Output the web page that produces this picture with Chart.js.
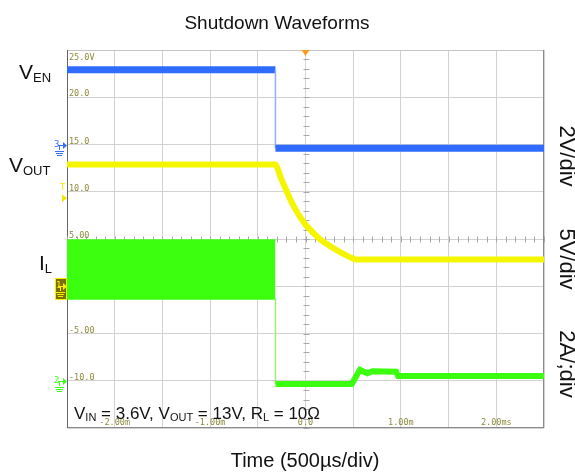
<!DOCTYPE html>
<html>
<head>
<meta charset="utf-8">
<script src="https://cdn.jsdelivr.net/npm/chart.js@4.4.0/dist/chart.umd.min.js"></script>
<style>
html,body{margin:0;padding:0;background:#fff;}
#wrap{width:575px;height:475px;position:relative;}
</style>
</head>
<body>
<div id="wrap"><canvas id="c" width="575" height="475"></canvas></div>
<script>
// ---- data (scope display units: time in ms, vertical in on-screen grid units) ----
const venTime   = [-2.5, -0.315, -0.315, 2.5];
const venValue  = [22.9, 22.9, 14.6, 14.6];

const voutTime  = [-2.5, -0.319, -0.256, -0.203, -0.151, -0.081, -0.010, 0.077, 0.164, 0.268, 0.373, 0.478, 0.53, 2.5];
const voutValue = [12.88, 12.88, 11.42, 10.19, 9.01, 7.72, 6.66, 5.71, 4.89, 4.18, 3.55, 3.02, 2.83, 2.83];

const ilRippleTime = [-2.5, -0.315];
const ilRippleMax  = [4.9, 4.9];
const ilRippleMin  = [-1.35, -1.35];

const ilTime  = [-0.315, -0.315, 0.485, 0.57, 0.65, 0.70, 0.95, 0.97, 2.5];
const ilValue = [-1.35, -10.35, -10.35, -8.85, -9.2, -9.0, -9.05, -9.5, -9.5];

const gridLabelValues = [25, 20, 15, 10, 5, 0, -5, -10];
const gridLabels      = ['25.0V', '20.0', '15.0', '10.0', '5.00', '0.0', '-5.00', '-10.0'];
const timeLabelValues = [-2, -1, 0, 1, 2];
const timeLabels      = ['-2.00m', '-1.00m', '0.0', '1.00m', '2.00ms'];

const titleText  = 'Shutdown Waveforms';
const xTitleText = 'Time (500\u00B5s/div)';

// ---- helpers ----
function pts(xs, ys) { return xs.map((x, i) => ({ x: x, y: ys[i] })); }
function verticalThin(w, c) {
  return {
    borderWidth: ctx => ctx.p0.parsed.x === ctx.p1.parsed.x ? w : undefined,
    borderColor: ctx => ctx.p0.parsed.x === ctx.p1.parsed.x ? c : undefined
  };
}
const SANS = '"Liberation Sans", Arial, sans-serif';
const MONO = '"DejaVu Sans Mono", monospace';
const OLIVE = '#8c8a3c';

function drawRich(ctx, parts, x, y, big, small, drop) {
  ctx.textAlign = 'left';
  ctx.textBaseline = 'alphabetic';
  let cx = x;
  parts.forEach(p => {
    ctx.font = (p.sub ? small : big) + 'px ' + SANS;
    ctx.fillText(p.t, cx, p.sub ? y + drop : y);
    cx += ctx.measureText(p.t).width;
  });
}

const decorPlugin = {
  id: 'decor',
  beforeDatasetsDraw(chart) {
    const { ctx, chartArea: a, scales } = chart;
    const xs = scales.x, ys = scales.y;
    ctx.save();
    // frame
    ctx.lineWidth = 1;
    ctx.strokeStyle = '#c4c4c4';
    ctx.beginPath(); ctx.moveTo(a.left, a.top + 0.5); ctx.lineTo(a.right, a.top + 0.5); ctx.stroke();
    ctx.strokeStyle = '#8a8a8a';
    ctx.beginPath(); ctx.moveTo(a.right - 0.5, a.top); ctx.lineTo(a.right - 0.5, a.bottom); ctx.stroke();
    ctx.beginPath(); ctx.moveTo(a.left, a.bottom - 0.5); ctx.lineTo(a.right, a.bottom - 0.5); ctx.stroke();
    ctx.strokeStyle = '#666';
    ctx.beginPath(); ctx.moveTo(a.left + 0.5, a.top); ctx.lineTo(a.left + 0.5, a.bottom); ctx.stroke();

    // minor ticks on centre axes
    ctx.strokeStyle = '#a8a8a8';
    const cx = Math.round(xs.getPixelForValue(0)) + 0.5;
    const cy = Math.round(ys.getPixelForValue(5)) + 0.5;
    for (let v = -15; v <= 25.001; v += 1) {
      const py = Math.round(ys.getPixelForValue(v)) + 0.5;
      ctx.beginPath(); ctx.moveTo(cx - 3, py); ctx.lineTo(cx + 3, py); ctx.stroke();
    }
    for (let t = -2.5; t <= 2.5001; t += 0.1) {
      const px = Math.round(xs.getPixelForValue(t)) + 0.5;
      ctx.beginPath(); ctx.moveTo(px, cy - 3); ctx.lineTo(px, cy + 3); ctx.stroke();
    }

    // grid value labels
    ctx.fillStyle = OLIVE;
    ctx.font = '8.5px ' + MONO;
    ctx.textAlign = 'left';
    ctx.textBaseline = 'alphabetic';
    gridLabelValues.forEach((v, i) => {
      const py = ys.getPixelForValue(v);
      const by = i === 0 ? py + 10 : py - 1;
      ctx.fillText(gridLabels[i], a.left + 2, by);
    });
    ctx.textAlign = 'center';
    timeLabelValues.forEach((t, i) => {
      ctx.fillText(timeLabels[i], xs.getPixelForValue(t), a.bottom - 3);
    });
    ctx.restore();
  },
  afterDraw(chart) {
    const { ctx, chartArea: a, scales } = chart;
    const xs = scales.x, ys = scales.y;
    ctx.save();
    ctx.fillStyle = '#111';
    // title
    ctx.font = '19px ' + SANS;
    ctx.textAlign = 'center';
    ctx.textBaseline = 'alphabetic';
    ctx.fillText(titleText, 277, 29);
    // x title
    ctx.font = '20px ' + SANS;
    ctx.fillText(xTitleText, 305, 467);

    // left channel names
    drawRich(ctx, [{ t: 'V' }, { t: 'EN', sub: true }], 19, 79, 21, 13, 3);
    drawRich(ctx, [{ t: 'V' }, { t: 'OUT', sub: true }], 9, 172, 21, 13, 3);
    drawRich(ctx, [{ t: 'I' }, { t: 'L', sub: true }], 39, 270, 21, 13, 3);

    // conditions text
    drawRich(ctx, [
      { t: 'V' }, { t: 'IN', sub: true }, { t: ' = 3.6V, V' }, { t: 'OUT', sub: true },
      { t: ' = 13V, R' }, { t: 'L', sub: true }, { t: ' = 10\u03A9' }
    ], 74, 419, 17, 11, 2);

    // right side scale labels (rotated)
    ctx.font = '22px ' + SANS;
    ctx.textAlign = 'center';
    ctx.textBaseline = 'middle';
    [['2V/div', 156], ['5V/div', 259], ['2A/;div', 364]].forEach(([s, y]) => {
      ctx.save();
      ctx.translate(566, y);
      ctx.rotate(Math.PI / 2);
      ctx.fillText(s, 0, 0);
      ctx.restore();
    });

    // trigger position marker (top)
    const tx = xs.getPixelForValue(0);
    ctx.fillStyle = '#ff9a1a';
    ctx.beginPath(); ctx.moveTo(tx - 4, a.top); ctx.lineTo(tx + 4, a.top); ctx.lineTo(tx, a.top + 6); ctx.closePath(); ctx.fill();

    // channel ground markers
    function ground(x, y, col) {
      ctx.strokeStyle = col; ctx.lineWidth = 1;
      ctx.beginPath(); ctx.moveTo(x + 0.5, y); ctx.lineTo(x + 0.5, y + 4); ctx.stroke();
      [[4, 5], [3, 7], [2, 9]].forEach(([hw, dy]) => {
        ctx.beginPath(); ctx.moveTo(x - hw, y + dy + 0.5); ctx.lineTo(x + hw + 1, y + dy + 0.5); ctx.stroke();
      });
    }
    function arrow(y, col) {
      ctx.fillStyle = col; ctx.strokeStyle = col; ctx.lineWidth = 1;
      ctx.beginPath(); ctx.moveTo(a.left - 9, y + 0.5); ctx.lineTo(a.left - 3, y + 0.5); ctx.stroke();
      ctx.beginPath(); ctx.moveTo(a.left - 4, y - 3); ctx.lineTo(a.left, y + 0.5); ctx.lineTo(a.left - 4, y + 4); ctx.closePath(); ctx.fill();
    }
    function chMarker(label, v, col) {
      const y = Math.round(ys.getPixelForValue(v));
      ctx.fillStyle = col;
      ctx.font = '9px ' + MONO;
      ctx.textAlign = 'left'; ctx.textBaseline = 'alphabetic';
      ctx.fillText(label, a.left - 13, y + 2);
      arrow(y, col);
      ground(a.left - 8, y + 1, col);
    }
    chMarker('3', 15, '#3a6cff');
    chMarker('2', -10, '#3cff1a');
    // channel 1 (highlighted box)
    const y1 = Math.round(ys.getPixelForValue(0));
    ctx.fillStyle = '#7a7000';
    ctx.fillRect(a.left - 12, y1 - 8, 12, 22);
    ctx.strokeStyle = '#ffee00';
    ctx.strokeRect(a.left - 11.5, y1 - 7.5, 11, 21);
    ctx.fillStyle = '#ffee00';
    ctx.font = '9px ' + MONO;
    ctx.fillText('1', a.left - 11, y1 + 2);
    arrow(y1, '#ffee00');
    ground(a.left - 7, y1 + 1, '#ffee00');
    // trigger level marker
    const yt = ys.getPixelForValue(9.3);
    ctx.fillStyle = '#f2e600';
    ctx.font = '9px ' + MONO;
    ctx.fillText('T', a.left - 7, yt - 8);
    ctx.beginPath(); ctx.moveTo(a.left - 5, yt - 4); ctx.lineTo(a.left, yt); ctx.lineTo(a.left - 5, yt + 4); ctx.closePath(); ctx.fill();
    ctx.restore();
  }
};

new Chart(document.getElementById('c'), {
  type: 'line',
  data: {
    datasets: [
      { label: 'VEN', data: pts(venTime, venValue), borderColor: '#2f6bff', borderWidth: 7,
        pointRadius: 0, tension: 0, fill: false, segment: verticalThin(1.5, '#8fb0ff') },
      { label: 'VOUT', data: pts(voutTime, voutValue), borderColor: '#f5f500', borderWidth: 6,
        pointRadius: 0, fill: false, cubicInterpolationMode: 'monotone', borderJoinStyle: 'round' },
      { label: 'IL ripple max', data: pts(ilRippleTime, ilRippleMax), borderColor: '#3cff0f', borderWidth: 1.5,
        backgroundColor: '#3cff0f', pointRadius: 0, fill: '+1' },
      { label: 'IL ripple min', data: pts(ilRippleTime, ilRippleMin), borderColor: '#3cff0f', borderWidth: 1.5,
        pointRadius: 0, fill: false },
      { label: 'IL', data: pts(ilTime, ilValue), borderColor: '#3cff0f', borderWidth: 6,
        pointRadius: 0, tension: 0, fill: false, segment: verticalThin(1.5, '#9cf07a') }
    ]
  },
  options: {
    responsive: false,
    animation: false,
    devicePixelRatio: 1,
    layout: { padding: { left: 67, right: 31, top: 50, bottom: 47 } },
    plugins: { legend: { display: false }, title: { display: false }, tooltip: { enabled: false } },
    scales: {
      x: {
        type: 'linear', min: -2.5, max: 2.5,
        ticks: { display: false, stepSize: 0.5 },
        grid: { color: '#d2d2d2', drawTicks: false, lineWidth: 1 },
        border: { display: false },
        afterFit(s) { s.height = 0; }
      },
      y: {
        type: 'linear', min: -15, max: 25,
        ticks: { display: false, stepSize: 5 },
        grid: { color: '#d2d2d2', drawTicks: false, lineWidth: 1 },
        border: { display: false },
        afterFit(s) { s.width = 0; }
      }
    }
  },
  plugins: [decorPlugin]
});
</script>
</body>
</html>
